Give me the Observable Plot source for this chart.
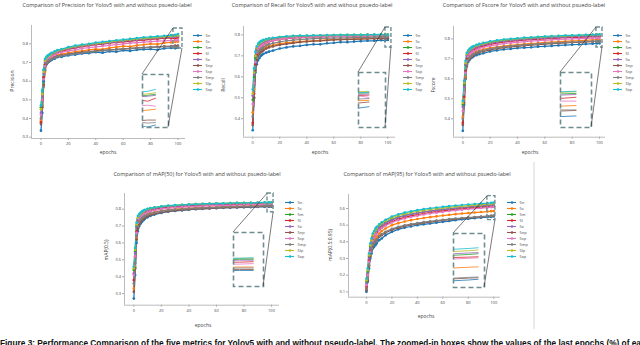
<!DOCTYPE html>
<html><head><meta charset="utf-8">
<script src="https://cdn.jsdelivr.net/npm/d3@7"></script>
<script src="https://cdn.jsdelivr.net/npm/@observablehq/plot@0.6"></script>
<style>
body{margin:0;background:#fff;}
#root{position:relative;width:640px;height:345px;overflow:hidden;font-family:"Open Sans",sans-serif;color:#444;background:#fff;}
.abs{position:absolute;line-height:1;white-space:nowrap;}
</style></head><body><div id="root"></div>
<script>
// ---------------- data ----------------
const seriesNames = ["5n","5s","5m","5l","5x","5np","5sp","5mp","5lp","5xp"];
const seriesColors = ["#1f77b4","#ff7f0e","#2ca02c","#d62728","#9467bd","#8c564b","#e377c2","#7f7f7f","#bcbd22","#17becf"];
const epochs = [0,1,2,3,4,5,6,7,8,10,12,15,20,25,30,35,40,45,50,55,60,65,70,75,80,85,90,95,98,100];
const xTicks = [0,20,40,60,80,100];

const precision = [
 [0.335,0.43,0.60,0.68,0.69,0.70,0.705,0.71,0.715,0.72,0.728,0.73,0.738,0.742,0.748,0.75,0.755,0.752,0.76,0.757,0.765,0.762,0.768,0.77,0.772,0.768,0.775,0.778,0.776,0.78],
 [0.39,0.47,0.58,0.65,0.70,0.71,0.715,0.72,0.725,0.735,0.74,0.745,0.752,0.758,0.762,0.768,0.772,0.77,0.778,0.782,0.788,0.785,0.792,0.795,0.80,0.798,0.805,0.808,0.81,0.812],
 [0.46,0.55,0.66,0.71,0.725,0.73,0.735,0.74,0.745,0.75,0.758,0.765,0.775,0.782,0.79,0.795,0.80,0.802,0.808,0.812,0.815,0.818,0.822,0.825,0.83,0.832,0.835,0.838,0.84,0.842],
 [0.38,0.50,0.62,0.69,0.715,0.725,0.73,0.735,0.742,0.748,0.755,0.76,0.77,0.778,0.785,0.79,0.795,0.798,0.803,0.807,0.81,0.813,0.818,0.82,0.824,0.826,0.83,0.832,0.828,0.834],
 [0.43,0.52,0.64,0.70,0.72,0.728,0.733,0.738,0.744,0.75,0.757,0.764,0.774,0.781,0.788,0.793,0.798,0.801,0.806,0.81,0.814,0.818,0.821,0.825,0.828,0.831,0.834,0.836,0.838,0.84],
 [0.37,0.46,0.58,0.66,0.69,0.70,0.71,0.715,0.72,0.728,0.733,0.738,0.745,0.75,0.755,0.758,0.762,0.765,0.768,0.77,0.773,0.775,0.778,0.78,0.782,0.784,0.786,0.788,0.79,0.79],
 [0.42,0.50,0.61,0.68,0.705,0.715,0.72,0.728,0.733,0.74,0.748,0.754,0.762,0.768,0.775,0.78,0.784,0.788,0.792,0.796,0.80,0.803,0.806,0.809,0.812,0.814,0.816,0.818,0.82,0.818],
 [0.40,0.47,0.57,0.66,0.695,0.705,0.712,0.716,0.72,0.726,0.732,0.736,0.743,0.748,0.752,0.756,0.76,0.763,0.766,0.769,0.772,0.774,0.777,0.779,0.781,0.783,0.785,0.786,0.784,0.785],
 [0.45,0.53,0.65,0.71,0.725,0.732,0.738,0.743,0.748,0.755,0.762,0.768,0.778,0.786,0.792,0.797,0.802,0.805,0.81,0.815,0.818,0.822,0.826,0.829,0.832,0.835,0.838,0.841,0.843,0.845],
 [0.47,0.55,0.66,0.72,0.73,0.738,0.742,0.748,0.752,0.76,0.766,0.772,0.782,0.79,0.796,0.80,0.806,0.81,0.814,0.819,0.822,0.826,0.83,0.834,0.837,0.84,0.843,0.846,0.848,0.852]
];
const recall = [
 [0.345,0.50,0.62,0.66,0.68,0.69,0.70,0.705,0.71,0.715,0.72,0.725,0.735,0.74,0.745,0.748,0.752,0.755,0.755,0.76,0.762,0.765,0.765,0.768,0.77,0.772,0.772,0.775,0.773,0.776],
 [0.43,0.54,0.64,0.69,0.705,0.715,0.72,0.728,0.733,0.74,0.745,0.75,0.758,0.762,0.765,0.768,0.77,0.772,0.774,0.776,0.778,0.779,0.78,0.781,0.782,0.783,0.784,0.785,0.786,0.787],
 [0.49,0.60,0.69,0.73,0.745,0.752,0.758,0.762,0.766,0.772,0.776,0.78,0.786,0.789,0.791,0.793,0.794,0.795,0.796,0.797,0.797,0.798,0.798,0.799,0.799,0.80,0.80,0.80,0.799,0.80],
 [0.38,0.52,0.66,0.71,0.73,0.74,0.745,0.75,0.755,0.762,0.767,0.772,0.778,0.782,0.785,0.787,0.789,0.79,0.791,0.792,0.793,0.793,0.794,0.794,0.795,0.795,0.796,0.796,0.795,0.796],
 [0.51,0.61,0.70,0.735,0.748,0.755,0.76,0.764,0.768,0.773,0.777,0.781,0.786,0.789,0.791,0.792,0.793,0.794,0.795,0.795,0.796,0.796,0.797,0.797,0.797,0.798,0.798,0.798,0.797,0.798],
 [0.37,0.50,0.63,0.68,0.70,0.71,0.717,0.722,0.727,0.735,0.74,0.745,0.752,0.757,0.761,0.765,0.768,0.77,0.772,0.774,0.776,0.777,0.778,0.779,0.78,0.781,0.782,0.783,0.782,0.784],
 [0.47,0.57,0.67,0.715,0.73,0.74,0.745,0.75,0.755,0.762,0.767,0.772,0.779,0.783,0.786,0.788,0.789,0.79,0.791,0.792,0.792,0.793,0.793,0.794,0.794,0.795,0.795,0.796,0.795,0.792],
 [0.41,0.53,0.64,0.695,0.715,0.725,0.732,0.737,0.742,0.75,0.755,0.76,0.767,0.772,0.775,0.778,0.78,0.782,0.783,0.784,0.785,0.786,0.786,0.787,0.788,0.788,0.789,0.79,0.789,0.79],
 [0.52,0.62,0.70,0.74,0.752,0.76,0.765,0.769,0.772,0.777,0.781,0.784,0.789,0.792,0.794,0.795,0.796,0.797,0.798,0.798,0.799,0.799,0.80,0.80,0.80,0.801,0.801,0.801,0.802,0.802],
 [0.54,0.64,0.72,0.745,0.758,0.765,0.77,0.773,0.776,0.78,0.783,0.786,0.79,0.793,0.795,0.796,0.797,0.798,0.798,0.799,0.799,0.80,0.80,0.80,0.80,0.801,0.801,0.802,0.80,0.801]
];
const fscore = [
 [0.34,0.47,0.61,0.67,0.685,0.695,0.703,0.708,0.713,0.718,0.723,0.728,0.737,0.742,0.747,0.75,0.754,0.756,0.758,0.761,0.763,0.765,0.767,0.769,0.771,0.772,0.774,0.776,0.777,0.778],
 [0.41,0.50,0.61,0.67,0.70,0.712,0.718,0.724,0.729,0.737,0.742,0.747,0.755,0.76,0.764,0.768,0.771,0.774,0.777,0.779,0.782,0.784,0.786,0.788,0.79,0.791,0.793,0.795,0.796,0.797],
 [0.47,0.57,0.67,0.72,0.735,0.742,0.748,0.752,0.756,0.762,0.767,0.772,0.78,0.786,0.79,0.794,0.797,0.80,0.802,0.804,0.806,0.808,0.81,0.811,0.813,0.814,0.815,0.817,0.818,0.819],
 [0.38,0.51,0.64,0.70,0.72,0.73,0.736,0.742,0.747,0.754,0.76,0.765,0.773,0.779,0.784,0.788,0.791,0.794,0.796,0.798,0.80,0.802,0.804,0.806,0.807,0.808,0.81,0.811,0.81,0.812],
 [0.46,0.56,0.67,0.715,0.732,0.74,0.746,0.75,0.754,0.76,0.765,0.77,0.778,0.784,0.788,0.792,0.795,0.798,0.80,0.802,0.804,0.806,0.808,0.809,0.811,0.812,0.813,0.815,0.816,0.817],
 [0.37,0.48,0.60,0.665,0.69,0.70,0.708,0.714,0.719,0.727,0.732,0.737,0.745,0.751,0.756,0.76,0.763,0.766,0.769,0.771,0.774,0.776,0.778,0.78,0.782,0.783,0.785,0.786,0.787,0.788],
 [0.44,0.53,0.63,0.69,0.71,0.722,0.728,0.734,0.739,0.746,0.752,0.757,0.765,0.771,0.776,0.78,0.783,0.786,0.789,0.791,0.793,0.795,0.797,0.799,0.80,0.801,0.802,0.804,0.805,0.805],
 [0.40,0.49,0.60,0.67,0.695,0.706,0.713,0.719,0.724,0.731,0.737,0.742,0.75,0.756,0.76,0.764,0.767,0.77,0.772,0.775,0.777,0.779,0.781,0.782,0.784,0.785,0.787,0.788,0.789,0.789],
 [0.48,0.58,0.68,0.725,0.738,0.746,0.752,0.756,0.76,0.766,0.771,0.776,0.784,0.79,0.794,0.798,0.801,0.803,0.806,0.808,0.81,0.812,0.814,0.815,0.816,0.818,0.819,0.82,0.821,0.822],
 [0.49,0.59,0.69,0.73,0.742,0.75,0.756,0.76,0.764,0.77,0.775,0.78,0.788,0.793,0.797,0.80,0.803,0.806,0.808,0.81,0.812,0.814,0.815,0.817,0.818,0.819,0.82,0.821,0.822,0.823]
];
const map50 = [
 [0.27,0.41,0.60,0.67,0.70,0.715,0.725,0.735,0.742,0.752,0.76,0.768,0.778,0.785,0.79,0.793,0.797,0.80,0.802,0.804,0.806,0.808,0.809,0.81,0.811,0.812,0.813,0.814,0.815,0.815],
 [0.33,0.46,0.63,0.70,0.725,0.738,0.748,0.756,0.762,0.77,0.776,0.782,0.79,0.796,0.80,0.803,0.806,0.808,0.81,0.812,0.813,0.815,0.816,0.817,0.818,0.819,0.82,0.821,0.822,0.822],
 [0.44,0.55,0.70,0.745,0.76,0.77,0.778,0.784,0.789,0.796,0.80,0.805,0.812,0.817,0.82,0.823,0.825,0.827,0.828,0.83,0.831,0.832,0.833,0.834,0.835,0.836,0.836,0.837,0.838,0.838],
 [0.38,0.52,0.67,0.73,0.75,0.762,0.77,0.777,0.782,0.79,0.795,0.80,0.807,0.812,0.815,0.818,0.82,0.822,0.824,0.825,0.826,0.827,0.828,0.829,0.83,0.831,0.831,0.832,0.832,0.833],
 [0.42,0.54,0.69,0.74,0.757,0.767,0.775,0.781,0.786,0.793,0.798,0.803,0.81,0.815,0.818,0.821,0.823,0.825,0.827,0.828,0.829,0.83,0.831,0.832,0.833,0.834,0.834,0.835,0.836,0.836],
 [0.31,0.45,0.62,0.685,0.71,0.725,0.735,0.743,0.75,0.758,0.765,0.772,0.781,0.787,0.792,0.795,0.798,0.801,0.803,0.805,0.807,0.809,0.81,0.811,0.813,0.814,0.815,0.816,0.817,0.817],
 [0.41,0.52,0.66,0.72,0.74,0.752,0.76,0.767,0.773,0.781,0.787,0.792,0.80,0.805,0.809,0.812,0.814,0.816,0.818,0.82,0.821,0.822,0.823,0.824,0.825,0.826,0.827,0.828,0.828,0.829],
 [0.36,0.48,0.64,0.70,0.725,0.738,0.747,0.754,0.76,0.768,0.774,0.78,0.788,0.794,0.798,0.801,0.804,0.806,0.808,0.81,0.811,0.813,0.814,0.815,0.816,0.817,0.818,0.819,0.82,0.82],
 [0.45,0.56,0.71,0.75,0.765,0.775,0.782,0.788,0.793,0.80,0.805,0.81,0.816,0.82,0.823,0.826,0.828,0.83,0.831,0.833,0.834,0.835,0.836,0.837,0.837,0.838,0.839,0.839,0.84,0.84],
 [0.46,0.57,0.72,0.76,0.772,0.78,0.787,0.792,0.796,0.802,0.807,0.811,0.817,0.821,0.824,0.826,0.828,0.83,0.832,0.833,0.834,0.835,0.836,0.837,0.838,0.838,0.839,0.84,0.84,0.841]
];
const map95 = [
 [0.10,0.16,0.24,0.30,0.33,0.36,0.37,0.38,0.39,0.41,0.42,0.44,0.46,0.475,0.485,0.492,0.50,0.505,0.51,0.515,0.52,0.525,0.53,0.535,0.538,0.542,0.545,0.548,0.55,0.552],
 [0.12,0.18,0.26,0.32,0.36,0.39,0.41,0.42,0.43,0.45,0.465,0.48,0.50,0.512,0.522,0.53,0.537,0.543,0.548,0.553,0.558,0.562,0.566,0.57,0.573,0.576,0.579,0.582,0.584,0.585],
 [0.16,0.22,0.31,0.37,0.40,0.43,0.445,0.46,0.47,0.49,0.50,0.515,0.535,0.548,0.558,0.566,0.573,0.579,0.584,0.589,0.593,0.597,0.60,0.604,0.607,0.61,0.613,0.616,0.618,0.62],
 [0.13,0.20,0.29,0.35,0.385,0.41,0.43,0.445,0.455,0.475,0.488,0.503,0.522,0.536,0.547,0.556,0.563,0.57,0.576,0.581,0.586,0.59,0.594,0.598,0.601,0.604,0.607,0.61,0.611,0.612],
 [0.15,0.21,0.30,0.36,0.395,0.42,0.44,0.455,0.465,0.485,0.497,0.512,0.532,0.546,0.557,0.565,0.573,0.579,0.585,0.59,0.595,0.599,0.603,0.607,0.61,0.614,0.617,0.62,0.622,0.623],
 [0.11,0.17,0.25,0.31,0.35,0.375,0.39,0.40,0.41,0.43,0.44,0.455,0.472,0.484,0.494,0.501,0.508,0.514,0.519,0.524,0.529,0.533,0.537,0.541,0.544,0.547,0.55,0.553,0.555,0.556],
 [0.14,0.20,0.28,0.34,0.38,0.405,0.425,0.44,0.45,0.47,0.483,0.497,0.516,0.53,0.54,0.549,0.557,0.564,0.57,0.575,0.58,0.585,0.589,0.593,0.597,0.60,0.603,0.606,0.608,0.609],
 [0.12,0.18,0.26,0.32,0.355,0.38,0.395,0.405,0.415,0.435,0.447,0.46,0.478,0.49,0.499,0.506,0.512,0.518,0.523,0.528,0.532,0.536,0.54,0.543,0.546,0.549,0.552,0.555,0.557,0.558],
 [0.17,0.23,0.32,0.38,0.41,0.44,0.455,0.47,0.48,0.50,0.51,0.525,0.545,0.558,0.568,0.576,0.583,0.589,0.594,0.599,0.603,0.607,0.611,0.614,0.617,0.62,0.623,0.626,0.628,0.63],
 [0.18,0.24,0.33,0.39,0.42,0.45,0.465,0.48,0.49,0.505,0.517,0.532,0.552,0.565,0.575,0.583,0.59,0.596,0.601,0.606,0.61,0.614,0.618,0.621,0.624,0.627,0.63,0.632,0.634,0.636]
];
const panelTitles = ["Comparison of Precision for Yolov5 with and without psuedo-label","Comparison of Recall for Yolov5 with and without psuedo-label","Comparison of Fscore for Yolov5 with and without psuedo-label","Comparison of mAP(50) for Yolov5 with and without psuedo-label","Comparison of mAP(95) for Yolov5 with and without psuedo-label"];
const yLabels = ["Precision","Recall","Fscore","mAP(0.5)","mAP(0.5:0.95)"];
const yTickSets = [[0.3,0.4,0.5,0.6,0.7,0.8],[0.4,0.5,0.6,0.7,0.8],[0.4,0.5,0.6,0.7,0.8],[0.3,0.4,0.5,0.6,0.7,0.8],[0.1,0.2,0.3,0.4,0.5,0.6]];
const xLabel = "epochs";
const captionText = "Figure 3: Performance Comparison of the five metrics for Yolov5 with and without pseudo-label. The zoomed-in boxes show the values of the last epochs (%) of each model and the best results.";

// ---------------- layout (pixels) ----------------
const layouts = [
 {frame:[31,185,25,138], xd:[-6.9,105.5], yd:[0.293,0.898], title:[107,6], yl:[12,81], xl:[108,152], leg:[193,31,6.9], small:{x:[96.7,103.3],y:[0.775,0.882]}, big:[142,74,168,127]},
 {frame:[243,395,26,136.7], xd:[-6.84,105.7], yd:[0.312,0.840], title:[312,6], yl:[223,85], xl:[320,152], leg:[403,30,7.2], small:{x:[98.3,102.7],y:[0.74,0.835]}, big:[358,72,385,127]},
 {frame:[453,605,26,136.7], xd:[-6.8,104.4], yd:[0.308,0.862], title:[524,6], yl:[433,85], xl:[530,152], leg:[613,30,7.2], small:{x:[97.8,102.2],y:[0.757,0.857]}, big:[560,72,591,127]},
 {frame:[124,279,193.3,305], xd:[-6.75,105.8], yd:[0.231,0.893], title:[197,175], yl:[106,250], xl:[203,324.6], leg:[285,199,6.67], small:{x:[97.1,101.5],y:[0.782,0.893]}, big:[233,232,263,286]},
 {frame:[348,500,194.3,297], xd:[-14.1,105.3], yd:[0.068,0.684], title:[427,175], yl:[330,245], xl:[426,316], leg:[507,198,6.78], small:{x:[95,101.3],y:[0.53,0.674]}, big:[453,233,484,287]}
];
const metricValues = [precision, recall, fscore, map50, map95];

const root = document.getElementById("root");
const boxColor = "#6e8d91";
const font = '"Open Sans", sans-serif';

function tidy(values){
  const rows = [];
  seriesNames.forEach((s,i)=>values[i].forEach((v,j)=>rows.push({series:s, epoch:epochs[j], value:v})));
  return rows;
}
function place(el, left, top){
  el.style.position = "absolute"; el.style.left = left+"px"; el.style.top = top+"px";
  root.appendChild(el); return el;
}
function addText(txt, x, y, size, rotate, extra){
  const d = document.createElement("div");
  d.className = "abs"; d.textContent = txt;
  d.style.left = x+"px"; d.style.top = y+"px"; d.style.fontSize = size+"px";
  d.style.transform = "translate(-50%,-50%)" + (rotate ? " rotate(-90deg)" : "");
  if (extra) Object.assign(d.style, extra);
  root.appendChild(d);
}
const connectors = [];
layouts.forEach((p, k) => {
  const rows = tidy(metricValues[k]);
  const ml = 30, mr = 3, mt = 3, mb = 14;
  const left = p.frame[0]-ml, top = p.frame[2]-mt;
  const width = p.frame[1]-p.frame[0]+ml+mr, height = p.frame[3]-p.frame[2]+mt+mb;
  const chart = Plot.plot({
    width, height, marginLeft: ml, marginRight: mr, marginTop: mt, marginBottom: mb,
    style:{fontFamily:font, fontSize:"4px", color:"#444", background:"transparent", overflow:"visible"},
    x:{domain:p.xd}, y:{domain:p.yd},
    color:{domain:seriesNames, range:seriesColors},
    marks:[
      Plot.ruleX([p.xd[0]], {stroke:"#aaa", strokeWidth:0.8}),
      Plot.ruleY([p.yd[0]], {stroke:"#aaa", strokeWidth:0.8}),
      Plot.axisX({ticks:xTicks, tickSize:2, tickPadding:1.5, stroke:"#aaa", tickFormat:d=>String(d), label:null, fontSize:4}),
      Plot.axisY({ticks:yTickSets[k], tickSize:2, tickPadding:1.5, stroke:"#aaa", tickFormat:d=>d.toFixed(1), label:null, fontSize:4}),
      Plot.line(rows, {x:"epoch", y:"value", stroke:"series", z:"series", strokeWidth:1.25}),
      Plot.dot(rows, {x:"epoch", y:"value", fill:"series", r:1.35}),
      Plot.rect([p.small], {x1:d=>d.x[0], x2:d=>d.x[1], y1:d=>d.y[0], y2:d=>d.y[1], fill:"none", stroke:boxColor, strokeWidth:1.4, strokeDasharray:"4,2"})
    ]
  });
  place(chart, left, top);

  // inset
  const b = p.big;
  const inset = Plot.plot({
    width:b[2]-b[0], height:b[3]-b[1], margin:0,
    style:{overflow:"visible", background:"transparent"},
    x:{domain:p.small.x, axis:null}, y:{domain:p.small.y, axis:null},
    color:{domain:seriesNames, range:seriesColors},
    marks:[
      Plot.frame({fill:"white"}),
      Plot.line(rows, {x:"epoch", y:"value", stroke:"series", z:"series", strokeWidth:0.8, clip:true}),
      Plot.frame({stroke:boxColor, strokeWidth:1.6, strokeDasharray:"5,3"})
    ]
  });
  place(inset, b[0], b[1]);

  const sx = chart.scale("x"), sy = chart.scale("y");
  connectors.push([left+sx.apply(p.small.x[0]), top+sy.apply(p.small.y[1]), b[0], b[1]]);
  connectors.push([left+sx.apply(p.small.x[1]), top+sy.apply(p.small.y[0]), b[2], b[3]]);

  // legend
  const n = seriesNames.length;
  const leg = Plot.plot({
    width:30, height:6+(n-1)*p.leg[2], margin:0,
    style:{fontFamily:font, overflow:"visible", background:"transparent", color:"#444"},
    x:{domain:[0,30], range:[0,30], axis:null},
    y:{type:"point", domain:seriesNames, range:[3, 3+(n-1)*p.leg[2]], axis:null},
    color:{domain:seriesNames, range:seriesColors},
    marks:[
      Plot.ruleY(seriesNames, {y:d=>d, x1:()=>0, x2:()=>9, stroke:d=>d, strokeWidth:1.1}),
      Plot.dot(seriesNames, {x:()=>4.5, y:d=>d, fill:d=>d, r:1.3}),
      Plot.text(seriesNames, {x:()=>12, y:d=>d, text:d=>d, textAnchor:"start", fontSize:4, fill:"#444"})
    ]
  });
  place(leg, p.leg[0], p.leg[1]-3);

  addText(panelTitles[k], p.title[0], p.title[1], 5.5);
  addText(yLabels[k], p.yl[0], p.yl[1], 5, true);
  addText(xLabel, p.xl[0], p.xl[1], 5);
});

// connector lines overlay
const ov = d3.create("svg").attr("width",640).attr("height",345).style("position","absolute").style("left","0px").style("top","0px").style("pointer-events","none");
ov.selectAll("line").data(connectors).join("line")
  .attr("x1",d=>d[0]).attr("y1",d=>d[1]).attr("x2",d=>d[2]).attr("y2",d=>d[3])
  .attr("stroke","#222").attr("stroke-width",0.6);
ov.append("line").attr("x1",534).attr("x2",534).attr("y1",162).attr("y2",329).attr("stroke","#ccc").attr("stroke-width",0.8);
root.appendChild(ov.node());

// caption
const cap = document.createElement("div");
cap.className = "abs"; cap.textContent = captionText;
Object.assign(cap.style, {left:"0px", top:"339px", fontSize:"8.3px", fontWeight:"bold", fontFamily:'"Liberation Sans", Arial, sans-serif', color:"#111", transform:"none"});
root.appendChild(cap);
</script></body></html>
